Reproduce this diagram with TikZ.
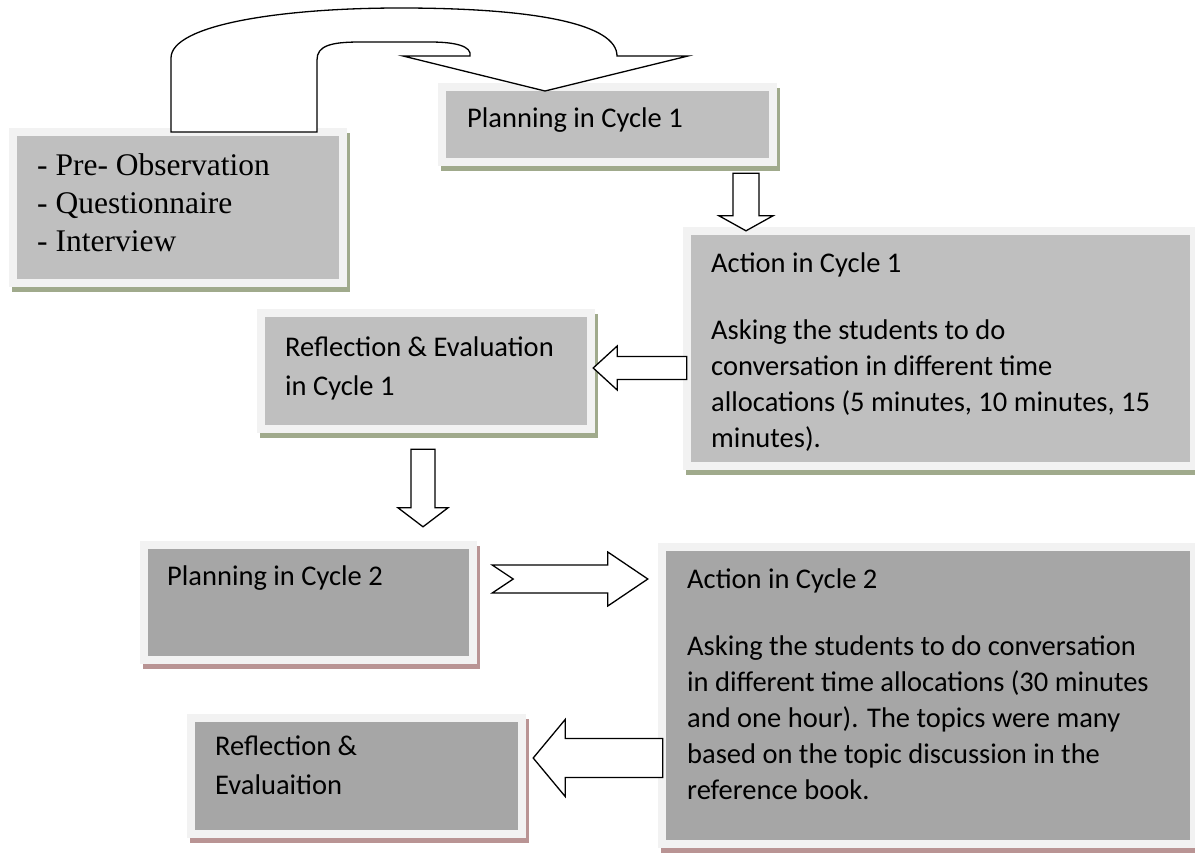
\documentclass[tikz,border=0pt]{standalone}
\usepackage{fontspec}
\setmainfont{Carlito}
\newfontfamily\timesfont{Liberation Serif}
\usetikzlibrary{calc,shadows}

\definecolor{panelframe}{HTML}{F2F2F2}
\definecolor{panellight}{HTML}{BFBFBF}
\definecolor{paneldark}{HTML}{A6A6A6}
\definecolor{shadegreen}{HTML}{A0AA8C}
\definecolor{shadepink}{HTML}{B99494}

\tikzset{
  panel/.style 2 args={fill=panelframe, draw=none, inner sep=0pt,
    general shadow={fill=#2, shadow xshift=3pt, shadow yshift=-5pt},
    path picture={\fill[#1] ([shift={(8pt,-8pt)}]path picture bounding box.north west)
      rectangle ([shift={(-8pt,8pt)}]path picture bounding box.south east);}},
  txt/.style={anchor=base west, align=left, inner sep=0pt, font=\fontsize{28.5}{36}\selectfont},
  blockarrow/.style args={#1/#2/#3}{draw=black, fill=white, line width=1.3pt, line join=miter,
    to path={let \p1=($(\tikztotarget)!#3!(\tikztostart)$) in
      ($(\tikztostart)!#1!90:(\tikztotarget)$) -- ($(\p1)!#1!90:(\tikztotarget)$)
      -- ($(\p1)!#2!90:(\tikztotarget)$) -- (\tikztotarget)
      -- ($(\p1)!#2!-90:(\tikztotarget)$) -- ($(\p1)!#1!-90:(\tikztotarget)$)
      -- ($(\tikztostart)!#1!-90:(\tikztotarget)$) -- cycle}},
  notcharrow/.style args={#1/#2/#3/#4}{draw=black, fill=white, line width=1.3pt, line join=miter,
    to path={let \p1=($(\tikztotarget)!#3!(\tikztostart)$) in
      ($(\tikztostart)!#1!90:(\tikztotarget)$) -- ($(\p1)!#1!90:(\tikztotarget)$)
      -- ($(\p1)!#2!90:(\tikztotarget)$) -- (\tikztotarget)
      -- ($(\p1)!#2!-90:(\tikztotarget)$) -- ($(\p1)!#1!-90:(\tikztotarget)$)
      -- ($(\tikztostart)!#1!-90:(\tikztotarget)$) -- ($(\tikztostart)!#4!(\tikztotarget)$) -- cycle}}
}

\begin{document}
\begin{tikzpicture}[x=1pt, y=-1pt]
  \useasboundingbox (0,0) rectangle (1195,859);

  \node[panel={panellight}{shadegreen}, minimum width=338pt, minimum height=159pt] (obs) at (178,207.5) {};
  \node[panel={panellight}{shadegreen}, minimum width=339pt, minimum height=83pt] (planA) at (607.5,124.5) {};
  \node[panel={panellight}{shadegreen}, minimum width=515pt, minimum height=243pt] (actA) at (940.5,348.5) {};
  \node[panel={panellight}{shadegreen}, minimum width=338pt, minimum height=124pt] (reflA) at (426,371) {};
  \node[panel={paneldark}{shadepink}, minimum width=337pt, minimum height=123pt] (planB) at (308.5,602.5) {};
  \node[panel={paneldark}{shadepink}, minimum width=540pt, minimum height=305pt] (actB) at (928,695.5) {};
  \node[panel={paneldark}{shadepink}, minimum width=339pt, minimum height=124pt] (reflB) at (356.5,776) {};

  \node[txt, font=\timesfont\fontsize{31.5}{38}\selectfont] (obsText) at (37,251)
    {- Pre- Observation\\- Questionnaire\\- Interview};
  \node[txt] (planAText) at (467,128) {Planning in Cycle 1};
  \node[txt] (actAText) at (711,447) {Action in Cycle 1\\[31pt]Asking the students to do\\
    conversation in different time\\allocations (5 minutes, 10 minutes, 15\\minutes).};
  \node[txt] (reflAText) at (285,395) {Reflection \& Evaluation\\[3pt]in Cycle 1};
  \node[txt] (planBText) at (167,585) {Planning in Cycle 2};
  \node[txt] (actBText) at (687,799) {Action in Cycle 2\\[31pt]Asking the students to do conversation\\
    in different time allocations (30 minutes\\and one hour). The topics were many\\
    based on the topic discussion in the\\reference book.};
  \node[txt] (reflBText) at (215,794) {Reflection \&\\[3pt]Evaluaition};

  \draw[line width=1.3pt, fill=white, line join=miter] (171,132) -- (171,58)
    .. controls (171,25) and (280,8) .. (400,8) .. controls (540,8) and (617,25) .. (617,56)
    -- (688,56) -- (545,91) -- (403,56) -- (470,56)
    .. controls (472,46) and (455,42) .. (430,42) -- (360,42)
    .. controls (330,42) and (317,46) .. (317,60) -- (317,132) -- cycle;

  \draw[blockarrow=13pt/27pt/15pt] ([shift={(138.5,7)}]planA.south) to ([shift={(-194.5,4)}]actA.north);
  \draw[blockarrow=11.5pt/22pt/24pt] ([shift={(4,19.5)}]actA.west) to ([shift={(-2,-3)}]reflA.east);
  \draw[blockarrow=12pt/25pt/19pt] ([shift={(-3,16)}]reflA.south) to ([shift={(114.5,-14)}]planB.north);
  \draw[notcharrow=14pt/27pt/40pt/21pt] ([shift={(15,-23.5)}]planB.east) to ([shift={(-10,-116.5)}]actB.west);
  \draw[blockarrow=19.5pt/38.5pt/32pt] ([shift={(5,62.5)}]actB.west) to ([shift={(7,-18)}]reflB.east);
\end{tikzpicture}
\end{document}
